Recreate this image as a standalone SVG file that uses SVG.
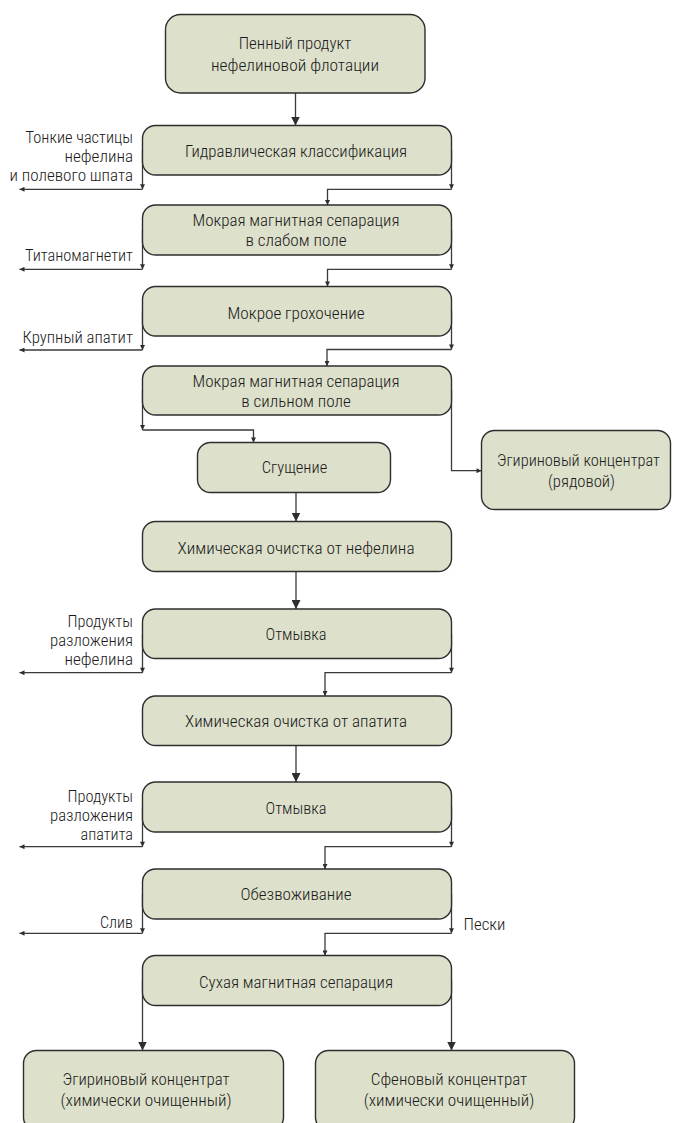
<svg xmlns="http://www.w3.org/2000/svg" width="673" height="1123" viewBox="0 0 673 1123">
<style>
.box{fill:#dde0ca;stroke:#2e2e2e;stroke-width:1.4}
.t,.l,.s{font-family:"Liberation Sans Narrow","Roboto Condensed",Roboto,"DejaVu Sans Condensed",sans-serif;font-size:16.5px;font-weight:300;fill:#1a1a1a}
.t{text-anchor:middle}
.l{text-anchor:end}
.s{text-anchor:start}
.cb{fill:none;stroke:#3a3a3a;stroke-width:1.3;marker-end:url(#big)}
.cs{fill:none;stroke:#3a3a3a;stroke-width:1.3;marker-end:url(#small)}
</style>
<defs>
<marker id="big" viewBox="0 0 10 10" refX="10" refY="5" markerUnits="userSpaceOnUse" markerWidth="9" markerHeight="9" orient="auto"><path d="M0,0 L10,5 L0,10 z" fill="#2e2e2e"/></marker>
<marker id="small" viewBox="0 0 10 10" refX="10" refY="5" markerUnits="userSpaceOnUse" markerWidth="6" markerHeight="5" orient="auto"><path d="M0,0 L10,5 L0,10 z" fill="#2e2e2e"/></marker>
</defs>
<rect width="673" height="1123" fill="#ffffff"/>

<g id="connectors">
<path class="cb" d="M295.5,93 V125.5"/>
<path class="cs" d="M142.5,150 V189.3"/>
<path class="cs" d="M142.5,189.3 H19.5"/>
<path class="cs" d="M451.5,150 V189.3"/>
<path class="cs" d="M451.5,189.3 H327.5 V205"/>
<path class="cs" d="M142.5,230 V269.3"/>
<path class="cs" d="M142.5,269.3 H19.5"/>
<path class="cs" d="M451.5,230 V269.3"/>
<path class="cs" d="M451.5,269.3 H327.5 V286.5"/>
<path class="cs" d="M142.5,311 V350"/>
<path class="cs" d="M142.5,350 H19.5"/>
<path class="cs" d="M451.5,311 V349.5"/>
<path class="cs" d="M451.5,349.5 H327 V366"/>
<path class="cs" d="M142.5,390 V430"/>
<path class="cs" d="M142.5,430 H253.5 V442.5"/>
<path class="cs" d="M451.5,390 V470.7 H481.5"/>
<path class="cb" d="M296,492.5 V521.5"/>
<path class="cb" d="M296,571.5 V609"/>
<path class="cs" d="M142.5,634 V672.7"/>
<path class="cs" d="M142.5,672.7 H19.5"/>
<path class="cs" d="M451.5,634 V672.7"/>
<path class="cs" d="M451.5,672.7 H325 V696"/>
<path class="cb" d="M296,745.5 V782"/>
<path class="cs" d="M142.5,807 V846.7"/>
<path class="cs" d="M142.5,846.7 H19.5"/>
<path class="cs" d="M451.5,807 V846.7"/>
<path class="cs" d="M451.5,846.7 H325 V869"/>
<path class="cs" d="M142.5,894 V933.3"/>
<path class="cs" d="M142.5,933.3 H19.5"/>
<path class="cs" d="M451.5,894 V933.3"/>
<path class="cs" d="M451.5,933.3 H325 V955.5"/>
<path class="cb" d="M142.5,980 V1050.5"/>
<path class="cb" d="M451.5,980 V1050.5"/>
</g>

<g id="n1">
<rect class="box" x="165.5" y="14.5" width="259.5" height="78.5" rx="15"/>
<text class="t" x="295" y="49" textLength="112.5" lengthAdjust="spacingAndGlyphs">Пенный продукт</text>
<text class="t" x="295" y="71" textLength="168" lengthAdjust="spacingAndGlyphs">нефелиновой флотации</text>
</g>
<g id="n2">
<rect class="box" x="142.5" y="125.5" width="309" height="49.5" rx="13"/>
<text class="t" x="296" y="156.5" textLength="222" lengthAdjust="spacingAndGlyphs">Гидравлическая классификация</text>
<text class="l" x="133" y="143" textLength="107.5" lengthAdjust="spacingAndGlyphs">Тонкие частицы</text>
<text class="l" x="133" y="162" textLength="68.5" lengthAdjust="spacingAndGlyphs">нефелина</text>
<text class="l" x="133" y="181" textLength="123.5" lengthAdjust="spacingAndGlyphs">и полевого шпата</text>
</g>
<g id="n3">
<rect class="box" x="142.5" y="205" width="309" height="50" rx="13"/>
<text class="t" x="296" y="226" textLength="207" lengthAdjust="spacingAndGlyphs">Мокрая магнитная сепарация</text>
<text class="t" x="296" y="245.5" textLength="101" lengthAdjust="spacingAndGlyphs">в слабом поле</text>
<text class="l" x="133" y="261" textLength="108" lengthAdjust="spacingAndGlyphs">Титаномагнетит</text>
</g>
<g id="n4">
<rect class="box" x="142.5" y="286.5" width="309" height="49.5" rx="13"/>
<text class="t" x="296" y="318.5" textLength="137" lengthAdjust="spacingAndGlyphs">Мокрое грохочение</text>
<text class="l" x="133" y="342.5" textLength="110.5" lengthAdjust="spacingAndGlyphs">Крупный апатит</text>
</g>
<g id="n5">
<rect class="box" x="142.5" y="366" width="309" height="49" rx="13"/>
<text class="t" x="296" y="387" textLength="207" lengthAdjust="spacingAndGlyphs">Мокрая магнитная сепарация</text>
<text class="t" x="296" y="406.5" textLength="109.5" lengthAdjust="spacingAndGlyphs">в сильном поле</text>
</g>
<g id="n6">
<rect class="box" x="197.5" y="442.5" width="193" height="50" rx="13"/>
<text class="t" x="294.5" y="473" textLength="65.5" lengthAdjust="spacingAndGlyphs">Сгущение</text>
</g>
<g id="n7">
<rect class="box" x="481.5" y="430.5" width="189" height="79" rx="13"/>
<text class="t" x="578.5" y="466" textLength="163" lengthAdjust="spacingAndGlyphs">Эгириновый концентрат</text>
<text class="t" x="581.5" y="487" textLength="67" lengthAdjust="spacingAndGlyphs">(рядовой)</text>
</g>
<g id="n8">
<rect class="box" x="142.5" y="521.5" width="309" height="50" rx="13"/>
<text class="t" x="296" y="553.5" textLength="237" lengthAdjust="spacingAndGlyphs">Химическая очистка от нефелина</text>
</g>
<g id="n9">
<rect class="box" x="142.5" y="609" width="309" height="49.5" rx="13"/>
<text class="t" x="296" y="639.5" textLength="61" lengthAdjust="spacingAndGlyphs">Отмывка</text>
<text class="l" x="133" y="627" textLength="65.5" lengthAdjust="spacingAndGlyphs">Продукты</text>
<text class="l" x="133" y="646" textLength="83" lengthAdjust="spacingAndGlyphs">разложения</text>
<text class="l" x="133" y="665" textLength="68.5" lengthAdjust="spacingAndGlyphs">нефелина</text>
</g>
<g id="n10">
<rect class="box" x="142.5" y="696" width="309" height="49.5" rx="13"/>
<text class="t" x="296" y="726.5" textLength="222" lengthAdjust="spacingAndGlyphs">Химическая очистка от апатита</text>
</g>
<g id="n11">
<rect class="box" x="142.5" y="782" width="309" height="50" rx="13"/>
<text class="t" x="296" y="813.5" textLength="61" lengthAdjust="spacingAndGlyphs">Отмывка</text>
<text class="l" x="133" y="802" textLength="65.5" lengthAdjust="spacingAndGlyphs">Продукты</text>
<text class="l" x="133" y="821" textLength="83" lengthAdjust="spacingAndGlyphs">разложения</text>
<text class="l" x="133" y="840" textLength="52.5" lengthAdjust="spacingAndGlyphs">апатита</text>
</g>
<g id="n12">
<rect class="box" x="142.5" y="869" width="309" height="50" rx="13"/>
<text class="t" x="296" y="899.5" textLength="111" lengthAdjust="spacingAndGlyphs">Обезвоживание</text>
<text class="l" x="133" y="928" textLength="33" lengthAdjust="spacingAndGlyphs">Слив</text>
<text class="s" x="463.5" y="930" textLength="42" lengthAdjust="spacingAndGlyphs">Пески</text>
</g>
<g id="n13">
<rect class="box" x="142.5" y="955.5" width="309" height="50" rx="13"/>
<text class="t" x="296" y="987.5" textLength="194" lengthAdjust="spacingAndGlyphs">Сухая магнитная сепарация</text>
</g>
<g id="n14">
<rect class="box" x="23.5" y="1050.5" width="260" height="80" rx="13"/>
<text class="t" x="146" y="1085" textLength="167" lengthAdjust="spacingAndGlyphs">Эгириновый концентрат</text>
<text class="t" x="146" y="1106" textLength="171" lengthAdjust="spacingAndGlyphs">(химически очищенный)</text>
</g>
<g id="n15">
<rect class="box" x="315.5" y="1050.5" width="259" height="80" rx="13"/>
<text class="t" x="449" y="1085" textLength="156.5" lengthAdjust="spacingAndGlyphs">Сфеновый концентрат</text>
<text class="t" x="449" y="1106" textLength="170.5" lengthAdjust="spacingAndGlyphs">(химически очищенный)</text>
</g>
</svg>
